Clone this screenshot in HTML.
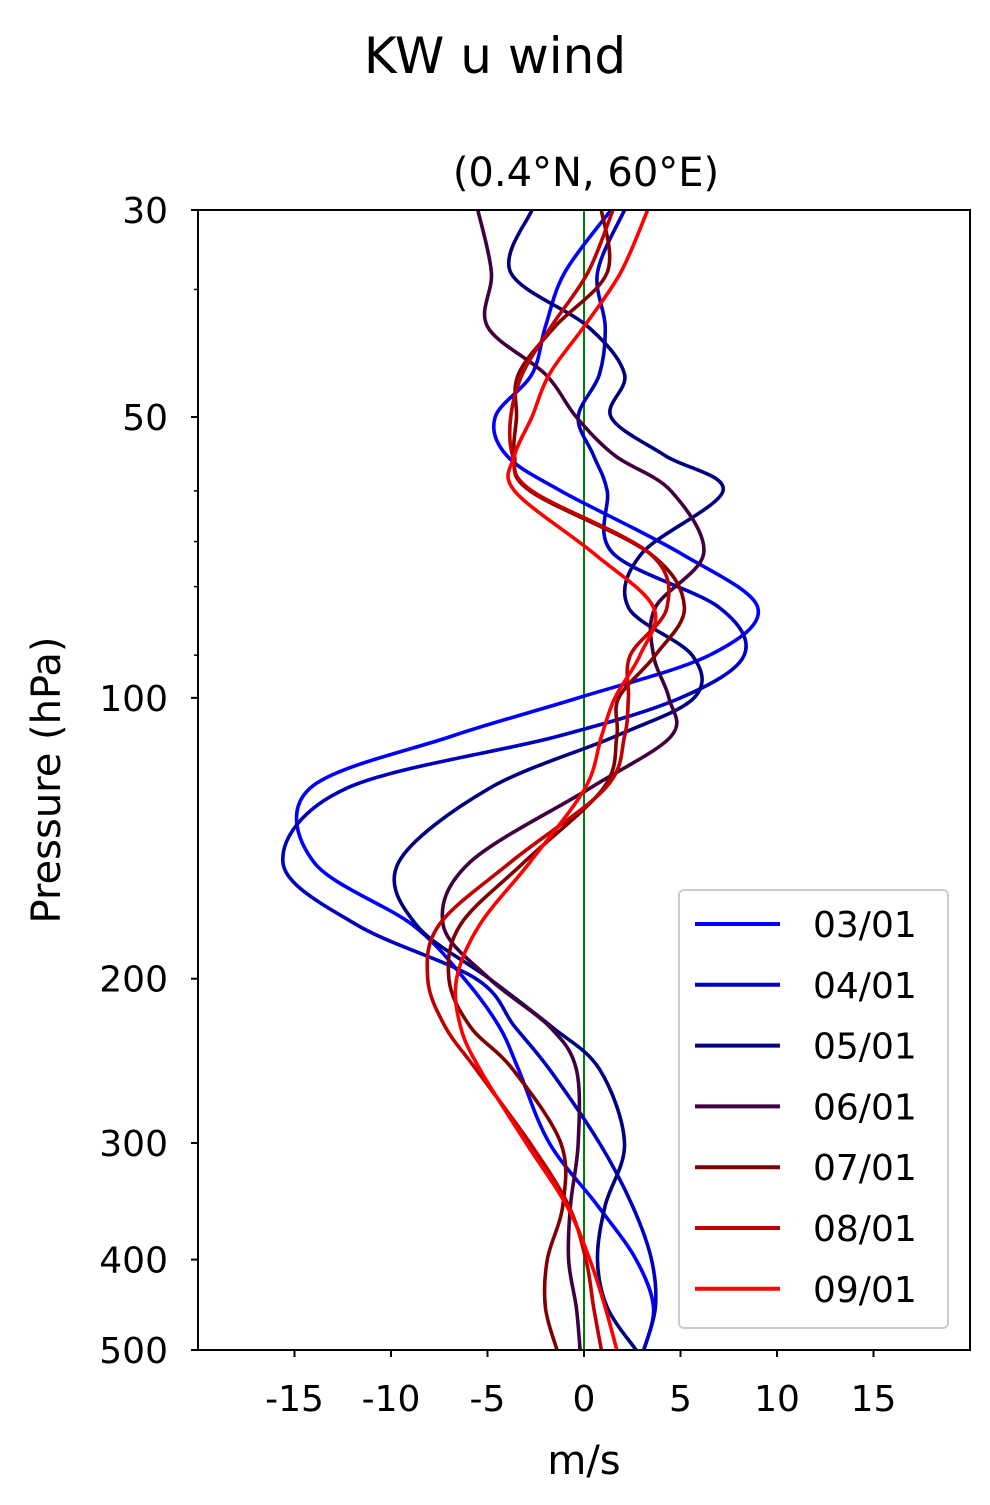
<!DOCTYPE html>
<html><head><meta charset="utf-8"><style>
body{margin:0;background:#fff;}
svg text{font-family:"DejaVu Sans","Liberation Sans",sans-serif;fill:#000;}
</style></head><body>
<svg id="chart" width="990" height="1500" viewBox="0 0 990 1500" xmlns="http://www.w3.org/2000/svg">
<rect width="990" height="1500" fill="#fff"/>
<text x="495" y="73" font-size="50" text-anchor="middle">KW u wind</text>
<text x="586" y="186" font-size="40" text-anchor="middle">(0.4°N, 60°E)</text>
<text x="584" y="1474" font-size="40" text-anchor="middle">m/s</text>
<text x="60" y="780" font-size="40" text-anchor="middle" transform="rotate(-90 60 780)">Pressure (hPa)</text>
<g id="marks"></g>
<rect x="198" y="210" width="772" height="1140" fill="none" stroke="#000" stroke-width="2"/>
<g id="axes"></g>
<g id="legend"></g>
</svg>
<script>
const levels = [30,35,40,45,50,55,60,70,80,90,100,110,125,150,175,200,225,250,300,350,400,450,500];
const seriesNames = ["03/01","04/01","05/01","06/01","07/01","08/01","09/01"];
const u0301 = [1.4,-1.0,-2.0,-2.7,-4.6,-4.0,-1.2,5.0,9.0,6.5,-0.3,-6.9,-14.2,-14.0,-8.9,-6.2,-4.4,-3.4,-1.8,0.7,2.7,3.6,3.1];
const u0401 = [2.1,0.7,1.1,0.8,-0.3,0.5,1.2,1.5,7.0,8.3,5.0,-1.4,-12.3,-15.6,-11.8,-5.6,-3.6,-1.8,0.8,2.5,3.5,3.7,3.1];
const u0501 = [-2.7,-3.8,0.2,2.1,1.4,4.2,7.2,3.0,2.3,5.6,5.7,1.6,-4.9,-9.6,-8.7,-4.9,-1.7,0.8,2.1,1.1,0.7,1.2,2.7];
const u0601 = [-5.5,-4.8,-5.0,-2.0,-0.4,1.6,4.5,6.2,3.7,3.6,4.4,4.5,0.3,-5.9,-7.3,-4.9,-1.8,-0.4,-0.3,-0.7,-0.8,-0.4,-0.2];
const u0701 = [0.9,1.2,-1.5,-3.4,-3.5,-3.6,-2.8,3.4,5.2,3.7,1.8,1.7,1.0,-3.1,-6.4,-7.0,-5.9,-3.7,-1.2,-1.1,-1.9,-2.0,-1.4];
const u0801 = [1.5,0.2,-1.7,-3.2,-3.8,-3.7,-2.7,3.4,4.3,2.4,2.3,2.1,1.1,-3.8,-7.5,-8.1,-7.2,-5.6,-2.8,-0.8,0.1,0.5,0.9];
const u0901 = [3.3,1.9,0.0,-1.8,-2.7,-3.6,-3.6,0.5,3.6,2.9,1.6,0.9,0.05,-2.8,-5.4,-6.6,-6.4,-5.4,-3.0,-0.9,0.3,1.1,1.7];
const seriesColors = ["#0000ff","#0000c0","#000080","#400040","#800000","#c00000","#ff0000"];
const xTicks = [-15,-10,-5,0,5,10,15];
const yTicks = [30,50,100,200,300,400,500];
const yMinor = [36.5,60,68,76,90];

const X0=198,X1=970,Y0=210,Y1=1350;
function xs(u){return X0+(u+20)/40*(X1-X0);}
function ys(p){return Y0+Math.log(p/30)/Math.log(500/30)*(Y1-Y0);}
const NS="http://www.w3.org/2000/svg";
function mk(tag,parent){const e=document.createElementNS(NS,tag);parent.appendChild(e);return e;}
function pathFrom(pts){
  let d="M"+pts[0][0].toFixed(1)+","+pts[0][1].toFixed(1);
  for(let i=0;i<pts.length-1;i++){
    const p0=pts[Math.max(0,i-1)],p1=pts[i],p2=pts[i+1],p3=pts[Math.min(pts.length-1,i+2)];
    const t=0.5/3;
    const c1=[p1[0]+(p2[0]-p0[0])*t,p1[1]+(p2[1]-p0[1])*t];
    const c2=[p2[0]-(p3[0]-p1[0])*t,p2[1]-(p3[1]-p1[1])*t];
    d+=" C"+c1[0].toFixed(1)+","+c1[1].toFixed(1)+" "+c2[0].toFixed(1)+","+c2[1].toFixed(1)+" "+p2[0].toFixed(1)+","+p2[1].toFixed(1);
  }
  return d;
}
const marks=document.getElementById("marks");
const zl=mk("line",marks);
zl.setAttribute("x1",xs(0));zl.setAttribute("x2",xs(0));zl.setAttribute("y1",Y0);zl.setAttribute("y2",Y1);
zl.setAttribute("stroke","#008000");zl.setAttribute("stroke-width","2");


const allSeries=[u0301,u0401,u0501,u0601,u0701,u0801,u0901];
allSeries.forEach((vals,si)=>{
  const pts=levels.map((p,i)=>[xs(vals[i]),ys(p)]);
  const pa=mk("path",marks);
  pa.setAttribute("d",pathFrom(pts));
  pa.setAttribute("fill","none");pa.setAttribute("stroke",seriesColors[si]);
  pa.setAttribute("stroke-width","3.6");pa.setAttribute("stroke-linejoin","round");
  
  
});
const axes=document.getElementById("axes");
xTicks.forEach(v=>{
  const l=mk("line",axes);
  l.setAttribute("x1",xs(v));l.setAttribute("x2",xs(v));l.setAttribute("y1",Y1);l.setAttribute("y2",Y1+7);
  l.setAttribute("stroke","#000");l.setAttribute("stroke-width","2");
  
  
  const t=mk("text",axes);
  t.setAttribute("x",xs(v));t.setAttribute("y",Y1+61);t.setAttribute("font-size","36");t.setAttribute("text-anchor","middle");
  t.textContent=String(v);
  
  
});
yTicks.forEach(v=>{
  const l=mk("line",axes);
  l.setAttribute("x1",X0-7);l.setAttribute("x2",X0);l.setAttribute("y1",ys(v));l.setAttribute("y2",ys(v));
  l.setAttribute("stroke","#000");l.setAttribute("stroke-width","2");
  
  
  const t=mk("text",axes);
  t.setAttribute("x",X0-30);t.setAttribute("y",ys(v)+13);t.setAttribute("font-size","36");t.setAttribute("text-anchor","end");
  t.textContent=String(v);
  
  
});
yMinor.forEach(v=>{
  const l=mk("line",axes);
  l.setAttribute("x1",X0-4);l.setAttribute("x2",X0);l.setAttribute("y1",ys(v));l.setAttribute("y2",ys(v));
  l.setAttribute("stroke","#000");l.setAttribute("stroke-width","1.5");
  
  
});
const lg=document.getElementById("legend");
const box=mk("rect",lg);
box.setAttribute("x",679);box.setAttribute("y",890);box.setAttribute("width",269);box.setAttribute("height",438);
box.setAttribute("rx",5);box.setAttribute("fill","#fff");box.setAttribute("fill-opacity","0.8");box.setAttribute("stroke","#cccccc");box.setAttribute("stroke-width","2");


seriesNames.forEach((n,i)=>{
  const y=924+60.8*i;
  const l=mk("line",lg);
  l.setAttribute("x1",695);l.setAttribute("x2",780);l.setAttribute("y1",y);l.setAttribute("y2",y);
  l.setAttribute("stroke",seriesColors[i]);l.setAttribute("stroke-width","4");
  
  
  const t=mk("text",lg);
  t.setAttribute("x",813);t.setAttribute("y",y+13);t.setAttribute("font-size","36");
  t.textContent=n;
  
  
});
</script>
</body></html>
